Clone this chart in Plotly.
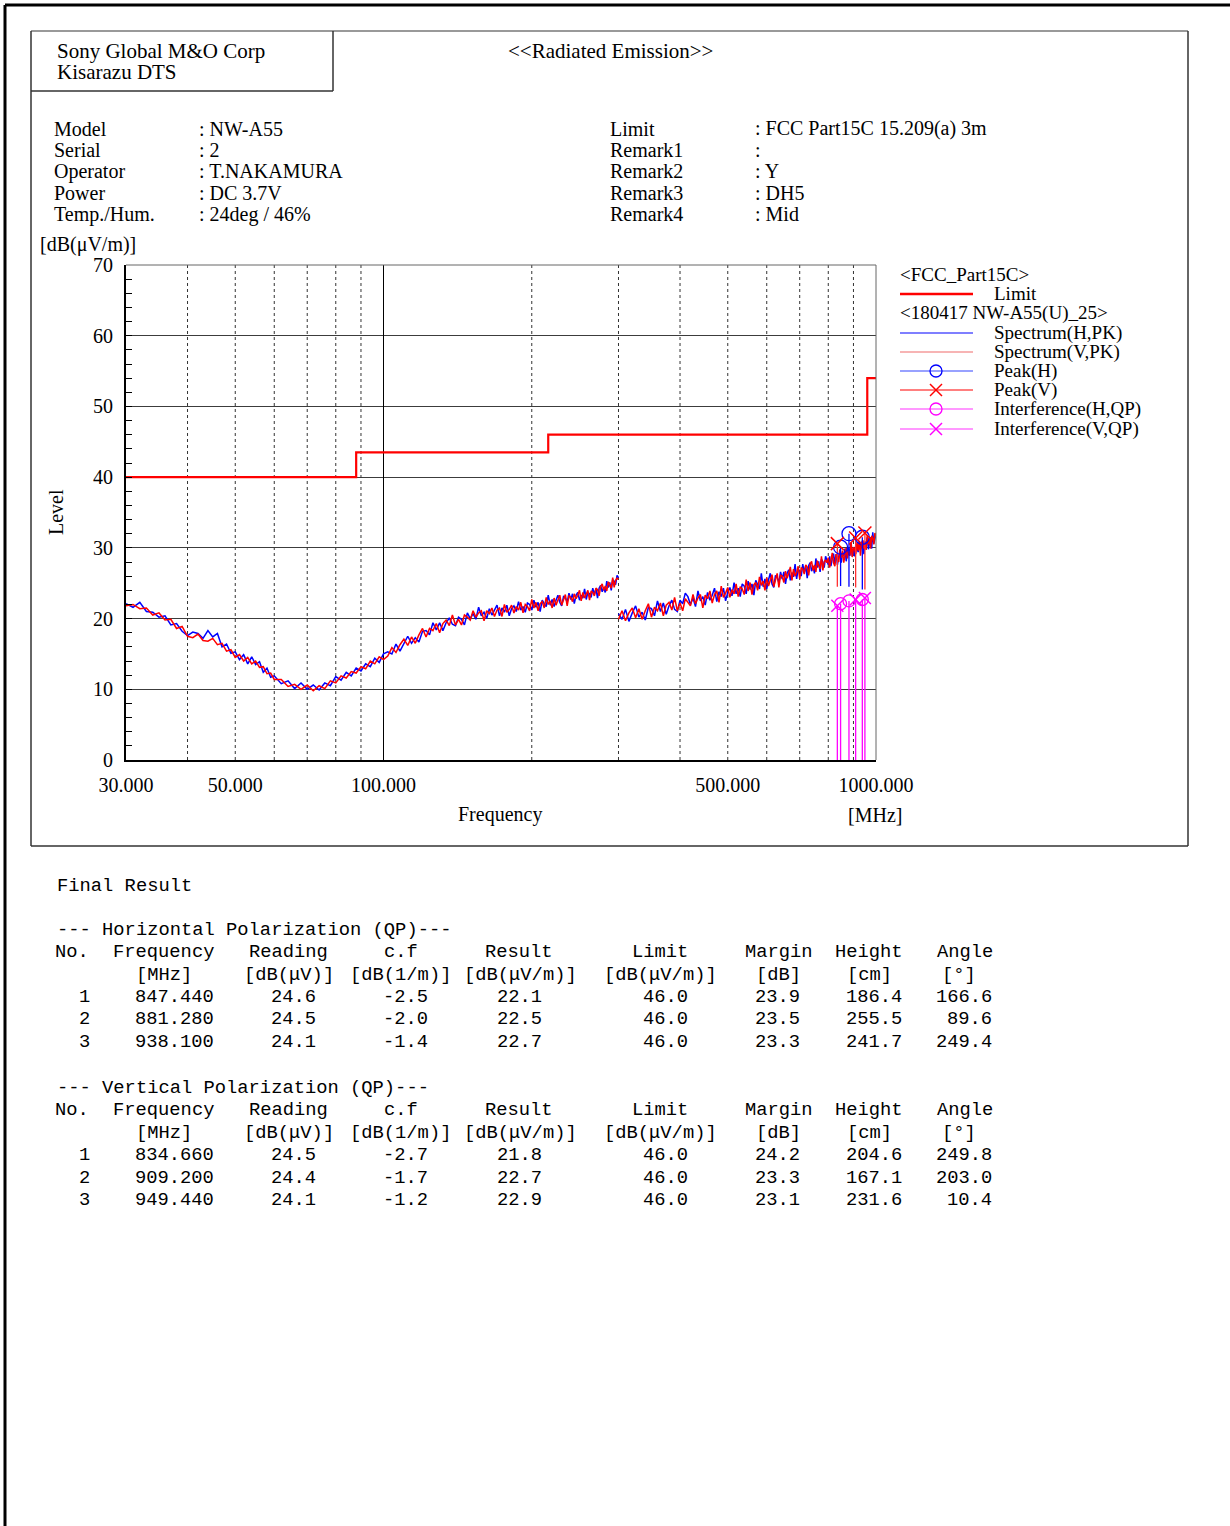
import math
import plotly.graph_objects as go

# ---------------- data ----------------
# Spectrum sweep, low band (30-300 MHz)
F_LOW = [30, 31, 32, 33, 34, 35, 36, 37, 38, 39, 40, 41, 42, 43, 44, 45, 46, 47, 48, 49,
         50, 51, 52, 53, 54, 55, 56, 57, 58, 59, 60,
         62, 64, 66, 68, 70, 72, 74, 76, 78, 80, 82, 84, 86, 88, 90, 92, 94, 96, 98, 100,
         102, 104, 106, 108, 110, 112, 114, 116, 118, 120, 122, 124, 126, 128, 130, 132,
         134, 136, 138, 140, 142, 144, 146, 148, 150, 152, 154, 156, 158, 160, 162, 164,
         166, 168, 170, 172, 174, 176, 178, 180, 182, 184, 186, 188, 190, 192, 194, 196,
         198, 200, 202, 204, 206, 208, 210, 212, 214, 216, 218, 220, 222, 224, 226, 228,
         230, 232, 234, 236, 238, 240, 242, 244, 246, 248, 250, 252, 254, 256, 258, 260,
         262, 264, 266, 268, 270, 272, 274, 276, 278, 280, 282, 284, 286, 288, 290, 292,
         294, 296, 298, 300]
SPEC_H_LOW = [22.1, 21.6, 22.3, 21.0, 20.9, 20.2, 20.4, 19.1, 19.3, 18.2, 17.6, 18.1, 17.9,
              17.2, 18.3, 17.4, 17.9, 16.0, 16.4, 15.1, 15.3, 14.2, 14.9, 13.6, 14.6, 13.5,
              13.9, 12.4, 13.0, 11.7, 11.9,
              10.8, 11.2, 10.1, 10.9, 10.0, 10.6, 9.9, 10.9, 10.5, 11.8, 11.3, 12.4, 11.9,
              13.0, 12.6, 13.6, 13.2, 14.4, 13.8, 15.0,
              15.3, 15.0, 16.4, 15.4, 16.5, 17.5, 16.5, 17.3, 16.7, 18.2,
              18.3, 17.7, 19.4, 18.4, 19.4, 18.3, 19.4, 20.1, 19.2, 19.0,
              20.2, 19.9, 19.1, 20.8, 20.0, 20.7, 19.9, 21.6, 20.4, 20.9,
              20.0, 21.4, 20.5, 21.1, 21.9, 20.4, 21.5, 20.9, 21.9, 20.4,
              21.4, 21.8, 21.0, 22.4, 21.2, 21.7, 20.9, 22.2, 22.0, 21.2,
              22.6, 21.6, 22.3, 21.0, 22.6, 22.1, 21.7, 23.3, 21.9, 22.7,
              21.7, 22.6, 23.3, 22.3, 21.8, 23.1, 22.9, 22.3, 23.6, 22.7,
              23.5, 22.1, 23.3, 23.7, 22.6, 23.3, 22.9, 24.2, 22.7, 23.7,
              23.5, 23.0, 24.3, 23.4, 24.2, 22.9, 24.3, 24.7, 23.8, 24.4,
              23.7, 25.3, 24.4, 25.1, 24.0, 25.5, 25.3, 24.8, 26.1, 25.8]
SPEC_V_LOW = [21.8, 22.0, 21.4, 21.5, 20.5, 20.8, 19.8, 19.9, 18.6, 18.9, 17.5, 17.3, 17.8,
              16.9, 16.8, 17.2, 16.3, 16.5, 15.4, 15.6, 14.5, 14.9, 14.0, 14.5, 13.6, 14.0,
              13.1, 13.2, 12.2, 12.3, 11.4,
              11.4, 10.4, 10.7, 10.0, 10.6, 9.8, 10.5, 10.1, 11.2, 10.9, 11.9, 11.6, 12.5,
              12.3, 13.2, 12.9, 14.0, 13.6, 14.6, 14.2,
              14.7, 15.9, 15.2, 16.3, 17.1, 16.2, 17.4, 16.5, 17.7, 18.6,
              17.4, 18.6, 18.3, 19.3, 18.0, 19.3, 19.8, 19.0, 20.5, 19.1,
              19.9, 19.1, 20.5, 20.2, 19.8, 21.1, 20.2, 20.8, 21.1, 19.7,
              21.1, 20.7, 21.5, 20.3, 21.2, 21.5, 20.3, 22.0, 20.9, 21.3,
              21.9, 20.8, 21.7, 21.2, 22.3, 20.8, 22.0, 21.7, 21.1, 22.7,
              21.5, 22.3, 21.1, 22.1, 22.4, 21.5, 23.0, 22.0, 22.5, 21.5,
              22.9, 21.9, 22.6, 23.3, 21.9, 22.7, 23.4, 21.8, 23.2, 23.0,
              22.4, 23.5, 22.8, 23.3, 24.0, 22.5, 23.7, 22.9, 23.4, 24.0,
              22.6, 23.9, 23.7, 23.2, 24.3, 24.1, 23.2, 24.5, 24.9, 24.0,
              24.6, 23.9, 25.2, 24.7, 24.3, 25.8, 24.4, 25.4, 25.7, 25.6]

# Spectrum sweep, high band (300-1000 MHz)
F_HIGH = [300, 305, 310, 315, 320, 325, 330, 335, 340, 345, 350, 355, 360, 365, 370, 375,
          380, 385, 390, 395, 400, 405, 410, 415, 420, 425, 430, 435, 440, 445, 450, 455,
          460, 465, 470, 475, 480, 485, 490, 495, 500, 505, 510, 515, 520, 525, 530, 535,
          540, 545, 550, 555, 560, 565, 570, 575, 580, 585, 590, 595, 600, 605, 610, 615,
          620, 625, 630, 635, 640, 645, 650, 655, 660, 665, 670, 675, 680, 685, 690, 695,
          700, 705, 710, 715, 720, 725, 730, 735, 740, 745, 750, 755, 760, 765, 770, 775,
          780, 785, 790, 795, 800, 805, 810, 815, 820, 825, 830, 835, 840, 845, 850, 855,
          860, 865, 870, 875, 880, 885, 890, 895, 900, 905, 910, 915, 920, 925, 930, 935,
          940, 945, 950, 955, 960, 965, 970, 975, 980, 985, 990, 995, 1000]
SPEC_H_HIGH = [20.7, 19.9, 21.3, 19.6, 20.8, 21.8, 20.2, 20.9, 19.8, 21.6,
               21.4, 20.4, 22.5, 21.0, 22.2, 20.6, 21.8, 22.6, 21.3, 21.0,
               22.6, 22.1, 23.6, 23.1, 22.0, 22.9, 21.7, 23.9, 22.5, 23.1,
               21.9, 23.7, 22.6, 23.3, 24.3, 22.4, 23.8, 23.1, 24.3, 22.5,
               23.7, 24.4, 23.2, 25.1, 23.5, 24.3, 23.1, 24.9, 24.6, 23.5,
               25.3, 24.1, 24.9, 23.3, 25.4, 24.8, 24.2, 26.4, 24.5, 25.6,
               24.2, 25.5, 26.4, 24.9, 24.4, 26.1, 25.8, 25.1, 26.6, 25.6,
               26.6, 24.9, 26.4, 26.9, 25.4, 26.5, 25.9, 27.7, 25.6, 27.0,
               26.7, 26.0, 27.7, 26.5, 27.5, 25.7, 27.5, 27.9, 26.7, 27.4,
               26.4, 28.5, 27.2, 28.1, 26.6, 28.4, 28.0, 27.2, 28.8, 28.2,
               27.6, 28.8, 27.4, 28.5, 29.2, 27.8, 29.1, 27.6, 28.8, 29.8,
               27.9, 29.3, 28.8, 29.9, 28.1, 29.6, 30.0, 28.9, 30.7, 28.8,
               29.9, 28.8, 30.5, 29.9, 29.4, 31.0, 29.8, 30.6, 31.0, 29.1,
               30.9, 30.4, 31.5, 29.8, 31.0, 31.5, 29.9, 32.2, 30.6, 31.2,
               32.0]
SPEC_V_HIGH = [19.9, 21.1, 19.7, 20.8, 21.5, 20.1, 21.4, 19.9, 21.1, 22.1,
               20.2, 21.6, 21.1, 22.2, 20.4, 21.9, 22.3, 21.2, 23.0, 21.1,
               22.2, 21.1, 22.8, 22.3, 21.8, 23.4, 22.1, 22.9, 23.4, 21.5,
               23.3, 22.8, 23.9, 22.2, 23.4, 23.9, 22.3, 24.6, 23.0, 23.6,
               24.4, 23.0, 24.1, 23.5, 24.9, 23.1, 24.5, 24.2, 23.4, 25.5,
               23.9, 25.1, 23.4, 24.8, 25.1, 24.0, 25.9, 24.7, 25.3, 24.0,
               25.8, 24.6, 25.5, 26.2, 24.5, 25.5, 26.4, 24.4, 26.1, 26.0,
               25.1, 26.7, 25.7, 26.4, 27.3, 25.4, 27.0, 26.0, 26.5, 27.4,
               25.6, 27.2, 27.0, 26.3, 27.6, 27.3, 26.1, 27.7, 28.1, 26.8,
               27.6, 26.6, 28.2, 27.5, 27.0, 28.8, 26.8, 28.0, 28.3, 27.9,
               28.6, 27.2, 28.5, 29.3, 27.9, 27.4, 29.1, 28.8, 28.0, 29.6,
               28.6, 29.6, 27.9, 29.4, 30.0, 28.5, 29.5, 28.9, 30.7, 28.7,
               30.1, 29.8, 29.1, 30.8, 29.6, 30.7, 28.9, 30.7, 31.1, 29.9,
               30.7, 29.7, 31.8, 30.5, 31.4, 29.9, 31.7, 31.4, 30.5, 32.1,
               31.6]

# FCC Part15C limit (step breakpoints)
LIMIT_F = [30, 88, 216, 960, 1000]
LIMIT_DB = [40.0, 43.5, 46.0, 54.0, 54.0]

# Final results
H_FREQ = [847.44, 881.28, 938.10]
H_READING = [24.6, 24.5, 24.1]
H_CF = [-2.5, -2.0, -1.4]
H_RESULT = [22.1, 22.5, 22.7]
H_LIMIT = [46.0, 46.0, 46.0]
H_MARGIN = [23.9, 23.5, 23.3]
H_HEIGHT = [186.4, 255.5, 241.7]
H_ANGLE = [166.6, 89.6, 249.4]
H_PEAK = [30.1, 32.0, 31.5]

V_FREQ = [834.66, 909.20, 949.44]
V_READING = [24.5, 24.4, 24.1]
V_CF = [-2.7, -1.7, -1.2]
V_RESULT = [21.8, 22.7, 22.9]
V_LIMIT = [46.0, 46.0, 46.0]
V_MARGIN = [24.2, 23.3, 23.1]
V_HEIGHT = [204.6, 167.1, 231.6]
V_ANGLE = [249.8, 203.0, 10.4]
V_PEAK = [30.6, 31.4, 32.1]

X_TICKS = [30, 50, 100, 500, 1000]
X_TICK_TEXT = ["30.000", "50.000", "100.000", "500.000", "1000.000"]
GRID_DOT_F = [40, 50, 60, 70, 80, 90, 200, 300, 400, 500, 600, 700, 800, 900]
GRID_SOLID_F = [100]
Y_MIN, Y_MAX = 0, 70

assert len(F_LOW) == len(SPEC_H_LOW) == len(SPEC_V_LOW), (len(F_LOW), len(SPEC_H_LOW), len(SPEC_V_LOW))
assert len(F_HIGH) == len(SPEC_H_HIGH) == len(SPEC_V_HIGH), (len(F_HIGH), len(SPEC_H_HIGH), len(SPEC_V_HIGH))

# ---------------- layout helpers ----------------
PAGE_W, PAGE_H = 1230, 1526
SERIF = "Liberation Serif, Times New Roman, serif"
MONO = "Liberation Mono, DejaVu Sans Mono, monospace"


def px(x):
    return x / PAGE_W


def py(y):
    return 1 - y / PAGE_H


fig = go.Figure()


def vlines(freqs):
    xs, ys = [], []
    for f in freqs:
        xs += [f, f, None]
        ys += [Y_MIN, Y_MAX, None]
    return xs, ys


gx, gy = vlines(GRID_DOT_F)
fig.add_trace(go.Scatter(x=gx, y=gy, mode="lines", line=dict(color="#333333", width=1, dash="dot"),
                         hoverinfo="skip", showlegend=False))
gx, gy = vlines(GRID_SOLID_F)
fig.add_trace(go.Scatter(x=gx, y=gy, mode="lines", line=dict(color="#000000", width=1),
                         hoverinfo="skip", showlegend=False))

# spectra
fig.add_trace(go.Scatter(x=F_LOW + [None] + F_HIGH, y=SPEC_H_LOW + [None] + SPEC_H_HIGH,
                         mode="lines", line=dict(color="#0000ff", width=1.5), connectgaps=False,
                         showlegend=False, name="Spectrum(H,PK)"))
fig.add_trace(go.Scatter(x=F_LOW + [None] + F_HIGH, y=SPEC_V_LOW + [None] + SPEC_V_HIGH,
                         mode="lines", line=dict(color="#ff0000", width=1.5), connectgaps=False,
                         showlegend=False, name="Spectrum(V,PK)"))

# limit
fig.add_trace(go.Scatter(x=LIMIT_F, y=LIMIT_DB, mode="lines", line=dict(color="#ff0000", width=2.2, shape="hv"),
                         showlegend=False, name="Limit"))


def stems(freqs, tops, bottoms):
    xs, ys = [], []
    for f, t, b in zip(freqs, tops, bottoms):
        xs += [f, f, None]
        ys += [t, b, None]
    return xs, ys


sx, sy = stems(H_FREQ, H_PEAK, H_READING)
fig.add_trace(go.Scatter(x=sx, y=sy, mode="lines", line=dict(color="#0000ff", width=1.3), showlegend=False))
sx, sy = stems(V_FREQ, V_PEAK, V_READING)
fig.add_trace(go.Scatter(x=sx, y=sy, mode="lines", line=dict(color="#ff3030", width=1.3), showlegend=False))
sx, sy = stems(H_FREQ + V_FREQ, H_RESULT + V_RESULT, [Y_MIN] * 6)
fig.add_trace(go.Scatter(x=sx, y=sy, mode="lines", line=dict(color="#ff00ff", width=1.3), showlegend=False))

fig.add_trace(go.Scatter(x=H_FREQ, y=H_PEAK, mode="markers", showlegend=False, name="Peak(H)",
                         marker=dict(symbol="circle-open", size=14, color="#0000ff", line=dict(width=1.3))))
fig.add_trace(go.Scatter(x=V_FREQ, y=V_PEAK, mode="markers", showlegend=False, name="Peak(V)",
                         marker=dict(symbol="x-thin-open", size=13, color="#ff0000", line=dict(width=1.5, color="#ff0000"))))
fig.add_trace(go.Scatter(x=H_FREQ, y=H_RESULT, mode="markers", showlegend=False, name="Interference(H,QP)",
                         marker=dict(symbol="circle-open", size=12, color="#ff00ff", line=dict(width=1.3))))
fig.add_trace(go.Scatter(x=V_FREQ, y=V_RESULT, mode="markers", showlegend=False, name="Interference(V,QP)",
                         marker=dict(symbol="x-thin-open", size=12, color="#ff00ff", line=dict(width=1.5, color="#ff00ff"))))

# ---------------- axes ----------------
fig.update_layout(
    width=PAGE_W, height=PAGE_H, autosize=False,
    margin=dict(l=0, r=0, t=0, b=0, pad=0, autoexpand=False),
    paper_bgcolor="white", plot_bgcolor="white",
    showlegend=False,
    xaxis=dict(type="log", range=[math.log10(30), math.log10(1000)], domain=[px(126), px(876)],
               automargin=False,
               showgrid=False, zeroline=False, showline=True, linecolor="black", linewidth=2,
               tickvals=X_TICKS, ticktext=X_TICK_TEXT, ticks="outside", ticklen=6,
               tickcolor="rgba(0,0,0,0)", tickfont=dict(family=SERIF, size=20, color="black")),
    yaxis=dict(range=[Y_MIN, Y_MAX], domain=[py(760), py(265)], tick0=0, dtick=10,
               automargin=False,
               showgrid=True, gridcolor="#3c3c3c", gridwidth=1, zeroline=False,
               showline=True, linecolor="black", linewidth=2,
               ticks="inside", ticklen=6, tickcolor="black",
               minor=dict(dtick=2, ticks="inside", ticklen=6, tickcolor="black", showgrid=False),
               ticklabelstandoff=7, tickfont=dict(family=SERIF, size=20, color="black")),
)

shapes = []
annotations = []


def line(x0, y0, x1, y1, color="black", width=1):
    shapes.append(dict(type="line", xref="paper", yref="paper", x0=px(x0), y0=py(y0), x1=px(x1), y1=py(y1),
                       line=dict(color=color, width=width)))


def text(x, y, s, size=20, anchor="left", font=SERIF, color="black", angle=0):
    # compensate the small internal padding plotly adds around annotation text
    if anchor == "left":
        x -= 2
    elif anchor == "right":
        x += 2
    annotations.append(dict(xref="paper", yref="paper", x=px(x), y=py(y), text=s, showarrow=False,
                            xanchor=anchor, yanchor="middle", textangle=angle,
                            font=dict(family=font, size=size, color=color)))


# plot border top/right
shapes.append(dict(type="line", xref="x domain", yref="y domain", x0=0, x1=1, y0=1, y1=1,
                   line=dict(color="#666666", width=1)))
shapes.append(dict(type="line", xref="x domain", yref="y domain", x0=1, x1=1, y0=0, y1=1,
                   line=dict(color="#666666", width=1)))

# page frame
line(5, 5, 1230, 5, width=3)
line(5, 5, 5, 1526, width=3)
line(31, 31, 1188, 31, color="#777777", width=1.5)
line(1188, 31, 1188, 846, color="#333333", width=1.5)
line(31, 846, 1188, 846, color="#333333", width=1.5)
line(31, 31, 31, 846, color="#333333", width=1.5)
line(333, 31, 333, 91, color="#333333", width=1.5)
line(31, 91, 333, 91, color="#333333", width=1.5)

# header texts
text(57, 51, "Sony Global M&amp;O Corp", size=21)
text(57, 72, "Kisarazu DTS", size=21)
text(610, 51, "&lt;&lt;Radiated Emission&gt;&gt;", anchor="center", size=21)

META_L = [("Model", ": NW-A55"), ("Serial", ": 2"), ("Operator", ": T.NAKAMURA"),
          ("Power", ": DC 3.7V"), ("Temp./Hum.", ": 24deg / 46%")]
META_R = [("Limit", ": FCC Part15C 15.209(a) 3m"), ("Remark1", ":"), ("Remark2", ": Y"),
          ("Remark3", ": DH5"), ("Remark4", ": Mid")]
META_Y = [129, 150, 171, 193, 214]
for (k, v), yy in zip(META_L, META_Y):
    text(54, yy, k)
    text(199, yy, v)
for (k, v), yy in zip(META_R, META_Y):
    text(610, yy, k)
    text(755, yy, v)

text(40, 244, "[dB(μV/m)]")
text(56, 512, "Level", anchor="center", angle=-90)
text(500, 815, "Frequency", anchor="center")
text(875, 815, "[MHz]", anchor="center")

# legend
LEG_X0, LEG_X1, LEG_MX, LEG_TX = 900, 973, 936, 994
text(900, 275, "&lt;FCC_Part15C&gt;", size=19)
line(LEG_X0, 294, LEG_X1, 294, color="#ff0000", width=2.5)
text(LEG_TX, 294, "Limit", size=19)
text(900, 313, "&lt;180417 NW-A55(U)_25&gt;", size=19)
legend_items = [
    ("Spectrum(H,PK)", 333, "#0000ff", None),
    ("Spectrum(V,PK)", 352, "#f06a6a", None),
    ("Peak(H)", 371, "#3344ff", "circle"),
    ("Peak(V)", 390, "#ff0000", "x"),
    ("Interference(H,QP)", 409, "#ff33ff", "circle"),
    ("Interference(V,QP)", 429, "#ff33ff", "x"),
]
for name, yy, col, sym in legend_items:
    line(LEG_X0, yy, LEG_X1, yy, color=col, width=1.2)
    text(LEG_TX, yy, name, size=19)
    mcol = {"#3344ff": "#0000ff", "#ff33ff": "#ff00ff"}.get(col, col)
    if sym == "circle":
        shapes.append(dict(type="circle", xref="paper", yref="paper",
                           x0=px(LEG_MX - 6), x1=px(LEG_MX + 6), y0=py(yy + 6), y1=py(yy - 6),
                           line=dict(color=mcol, width=1.3), fillcolor="rgba(0,0,0,0)"))
    elif sym == "x":
        line(LEG_MX - 6, yy - 6, LEG_MX + 6, yy + 6, color=mcol, width=1.5)
        line(LEG_MX - 6, yy + 6, LEG_MX + 6, yy - 6, color=mcol, width=1.5)

# ---------------- final result table ----------------
TS = 18.8
text(57, 886, "Final Result", size=TS, font=MONO)

HEAD = [("No.", 72), ("Frequency", 163.5), ("Reading", 288), ("c.f", 400.5), ("Result", 519),
        ("Limit", 660), ("Margin", 778.5), ("Height", 868.5), ("Angle", 964.5)]
UNITS = [("[MHz]", 164), ("[dB(μV)]", 289), ("[dB(1/m)]", 401), ("[dB(μV/m)]", 520.5),
         ("[dB(μV/m)]", 660), ("[dB]", 778.5), ("[cm]", 869), ("[°]", 958.5)]
RIGHT_EDGES = [90, 214, 316, 428, 542, 688, 800, 902, 992]


def table(y_title, title, freq, reading, cf, result, limit, margin, height, angle):
    text(57, y_title, title, size=TS, font=MONO)
    for s, cx in HEAD:
        text(cx, y_title + 22, s, size=TS, font=MONO, anchor="center")
    for s, cx in UNITS:
        text(cx, y_title + 45, s, size=TS, font=MONO, anchor="center")
    for i in range(len(freq)):
        yy = y_title + 67 + i * 22.5
        cells = [str(i + 1), f"{freq[i]:.3f}", f"{reading[i]:.1f}", f"{cf[i]:.1f}",
                 f"{result[i]:.1f}", f"{limit[i]:.1f}", f"{margin[i]:.1f}",
                 f"{height[i]:.1f}", f"{angle[i]:.1f}"]
        for s, xr in zip(cells, RIGHT_EDGES):
            text(xr, yy, s, size=TS, font=MONO, anchor="right")


table(930, "--- Horizontal Polarization (QP)---", H_FREQ, H_READING, H_CF, H_RESULT, H_LIMIT,
      H_MARGIN, H_HEIGHT, H_ANGLE)
table(1088, "--- Vertical Polarization (QP)---", V_FREQ, V_READING, V_CF, V_RESULT, V_LIMIT,
      V_MARGIN, V_HEIGHT, V_ANGLE)

fig.update_layout(shapes=shapes, annotations=annotations)

fig.write_html("out.html", include_plotlyjs=True, config={"displayModeBar": False},
               post_script="document.body.style.margin='0';document.body.style.overflow='hidden';")
